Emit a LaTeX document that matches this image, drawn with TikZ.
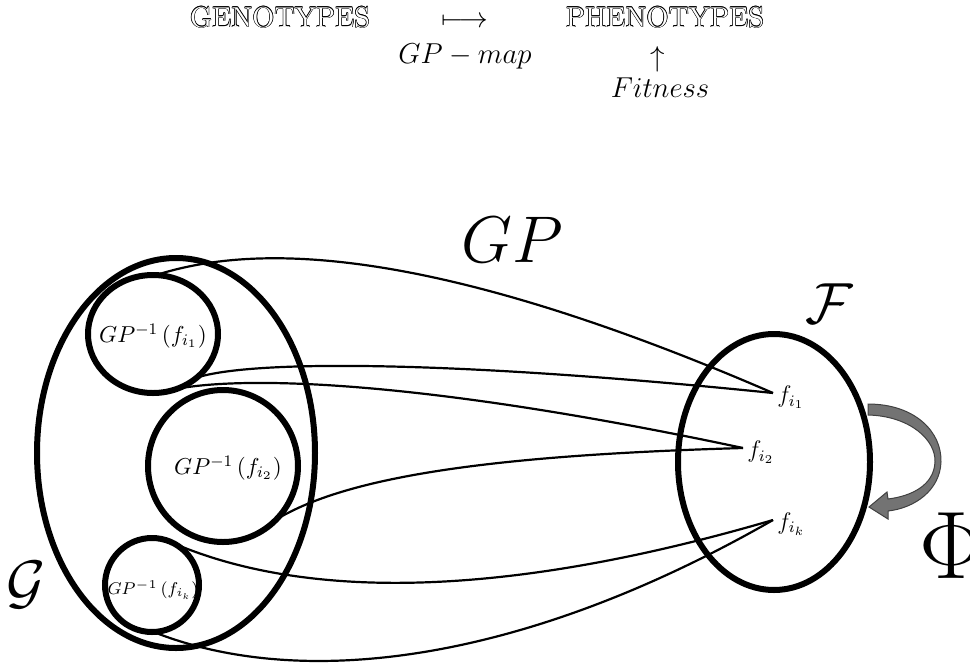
\RequirePackage{fix-cm}
\documentclass[tikz,border=0pt]{standalone}
\usepackage{fontspec}
\usetikzlibrary{shapes.geometric}
\newcommand{\olcopy}[3]{\makebox[0pt][l]{\hspace*{#1}\raisebox{#2}{\color{black}#3}}}
\newcommand{\outlinetext}[1]{%
  \olcopy{0.3pt}{0pt}{#1}\olcopy{-0.3pt}{0pt}{#1}%
  \olcopy{0pt}{0.3pt}{#1}\olcopy{0pt}{-0.3pt}{#1}%
  \olcopy{0.21pt}{0.21pt}{#1}\olcopy{-0.21pt}{0.21pt}{#1}%
  \olcopy{0.21pt}{-0.21pt}{#1}\olcopy{-0.21pt}{-0.21pt}{#1}%
  {\color{white}#1}}
\begin{document}
\begin{tikzpicture}[x=0.5pt,y=-0.5pt,
  setbox/.style={draw, ellipse, line width=3pt, inner sep=0pt, outer sep=0pt},
  link/.style={line width=1.1pt},
  title/.style={font=\Large, anchor=base, inner sep=0pt},
  circlabel/.style={font=\fontsize{11.5}{13}\selectfont, inner sep=0pt},
  ptlabel/.style={font=\fontsize{12}{14}\selectfont, anchor=west, inner sep=0pt}]
\useasboundingbox (0,0) rectangle (970,665);

% top line
\node[title] (geno) at (280,27) {\outlinetext{GENOTYPES}};
\node[title] (mapsto) at (465,27) {$\longmapsto$};
\node[title] (pheno) at (665,27) {\outlinetext{PHENOTYPES}};
\node[title] (gpmap) at (465,63) {$GP - map$};
\node[font=\Large, inner sep=0pt] (up) at (658,59) {$\uparrow$};
\node[title] (fit) at (660,97) {$Fitness$};

% sets
\node[setbox, minimum width=139pt, minimum height=195pt] (G) at (176,453) {};
\node[setbox, minimum width=65pt, minimum height=59pt] (c1) at (153,334) {};
\node[setbox, minimum width=75pt, minimum height=76pt] (c2) at (223,466) {};
\node[setbox, minimum width=47pt, minimum height=47pt] (c3) at (152,585) {};
\node[setbox, minimum width=96pt, minimum height=128pt] (F) at (774,462) {};

\node[circlabel] (l1) at (153,336) {$GP^{-1}\left(f_{i_1}\right)$};
\node[circlabel] (l2) at (228,468) {$GP^{-1}\left(f_{i_2}\right)$};
\node[circlabel, font=\fontsize{8.5}{10}\selectfont] (l3) at (153,590) {$GP^{-1}\left(f_{i_k}\right)$};

% points in F
\coordinate (fi1) at (773,393);
\coordinate (fi2) at (743,448);
\coordinate (fik) at (773,520);
\node[ptlabel] (t1) at (777,397) {$f_{i_1}$};
\node[ptlabel] (t2) at (747,452) {$f_{i_2}$};
\node[ptlabel] (tk) at (777,524) {$f_{i_k}$};

% connectors
\draw[link] (c1.87) .. controls (250,245) and (420,240) .. (fi1);
\draw[link] (c1.-45) .. controls (250,360) and (450,360) .. (fi1);
\draw[link] (c1.-83) .. controls (220,375) and (400,375) .. (fi2);
\draw[link] (c2.-45) .. controls (350,475) and (500,455) .. (fi2);
\draw[link] (c3.71) .. controls (300,600) and (500,600) .. (fik);
\draw[link] (c3.-88) .. controls (300,690) and (520,665) .. (fik);

% labels
\node[font=\fontsize{33}{36}\selectfont, anchor=base, inner sep=0pt] (gp) at (512,262) {$GP$};
\node[font=\fontsize{29}{32}\selectfont, inner sep=0pt] (Flab) at (829,304) {$\mathcal{F}$};
\node[font=\fontsize{30}{33}\selectfont, inner sep=0pt] (Glab) at (26,585) {$\mathcal{G}$};
\node[font=\fontsize{48}{52}\selectfont, anchor=base, inner sep=0pt] (phi) at (952,578) {$\Phi$};

% Phi arrow
\filldraw[fill=black!55, draw=black!75, line width=0.5pt]
  (868,404) .. controls (915,404) and (942,432) .. (941,462)
  .. controls (940,490) and (915,508) .. (888,511)
  -- (888,519) -- (869,507) -- (887,492) -- (888,499)
  .. controls (912,496) and (934,485) .. (935,462)
  .. controls (936,440) and (910,416) .. (868,415) -- cycle;
\end{tikzpicture}
\end{document}
